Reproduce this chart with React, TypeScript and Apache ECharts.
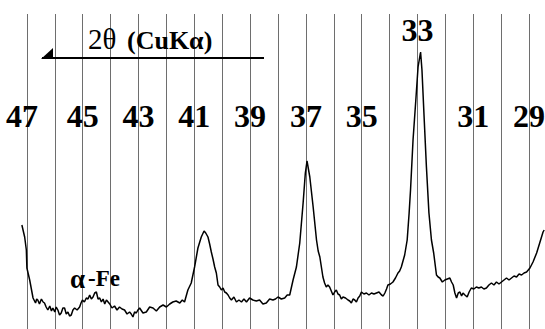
import React, { useEffect, useRef } from "react";
import * as echarts from "echarts";

const twoTheta: number[] = [
  47.18, 47.08, 47.02, 47.0, 46.9, 46.78, 46.69, 46.65, 46.61, 46.55, 46.48, 46.42, 46.37, 46.31, 46.25, 46.18,
  46.12, 46.07, 46.0, 45.95, 45.89, 45.83, 45.77, 45.71, 45.65, 45.59, 45.53, 45.47, 45.41, 45.35, 45.29, 45.2,
  45.11, 45.06, 45.01, 44.94, 44.87, 44.81, 44.75, 44.69, 44.63, 44.57, 44.51, 44.45, 44.39, 44.33, 44.27, 44.21,
  44.15, 44.09, 44.03, 43.95, 43.86, 43.77, 43.68, 43.59, 43.5, 43.41, 43.32, 43.26, 43.2, 43.14, 43.08, 43.02,
  42.96, 42.84, 42.72, 42.6, 42.48, 42.36, 42.24, 42.12, 42.0, 41.88, 41.77, 41.65, 41.52, 41.43, 41.35, 41.23,
  41.11, 40.99, 40.87, 40.75, 40.65, 40.59, 40.51, 40.45, 40.39, 40.33, 40.27, 40.21, 40.15, 40.09, 40.03, 39.97,
  39.91, 39.85, 39.79, 39.73, 39.67, 39.58, 39.49, 39.4, 39.31, 39.22, 39.13, 39.02, 38.9, 38.78, 38.66, 38.54,
  38.42, 38.3, 38.18, 38.09, 38.0, 37.88, 37.76, 37.67, 37.58, 37.46, 37.34, 37.22, 37.1, 37.02, 36.96, 36.91,
  36.86, 36.74, 36.62, 36.56, 36.5, 36.39, 36.33, 36.27, 36.21, 36.15, 36.09, 36.03, 35.97, 35.91, 35.85, 35.79,
  35.73, 35.67, 35.58, 35.49, 35.43, 35.37, 35.31, 35.25, 35.19, 35.13, 35.07, 35.01, 34.92, 34.83, 34.74, 34.65,
  34.56, 34.47, 34.38, 34.29, 34.23, 34.17, 34.11, 34.06, 33.97, 33.88, 33.79, 33.7, 33.64, 33.58, 33.52, 33.46,
  33.37, 33.3, 33.25, 33.16, 33.06, 32.98, 32.89, 32.84, 32.77, 32.68, 32.59, 32.5, 32.42, 32.32, 32.26, 32.2,
  32.11, 32.02, 31.93, 31.84, 31.78, 31.72, 31.66, 31.6, 31.54, 31.48, 31.42, 31.37, 31.3, 31.22, 31.15, 31.07,
  30.98, 30.89, 30.8, 30.71, 30.62, 30.53, 30.44, 30.35, 30.26, 30.17, 30.08, 29.99, 29.9, 29.81, 29.72, 29.63,
  29.54, 29.45, 29.36, 29.27, 29.18, 29.09, 28.97, 28.86, 28.73, 28.62, 28.5, 28.46,
];

const intensity: number[] = [
  104, 92, 79, 61, 49, 31, 26, 30, 29, 25, 30, 27, 26, 22, 19, 23,
  18, 21, 17, 22, 19, 14, 16, 21, 21, 15, 17, 13, 14, 19, 21, 19,
  22, 26, 29, 27, 31, 30, 34, 30, 32, 36, 37, 30, 31, 27, 30, 25,
  29, 27, 25, 21, 23, 19, 22, 20, 19, 15, 17, 15, 12, 17, 16, 19,
  21, 16, 17, 22, 21, 18, 22, 24, 22, 25, 27, 28, 26, 29, 27, 39,
  46, 62, 81, 92, 98, 96, 92, 85, 77, 70, 62, 56, 44, 42, 39, 41,
  37, 36, 34, 31, 29, 32, 27, 29, 27, 30, 27, 31, 29, 28, 29, 25,
  26, 30, 29, 30, 32, 30, 31, 34, 34, 49, 62, 86, 126, 156, 168, 160,
  152, 122, 89, 78, 72, 52, 46, 42, 44, 42, 38, 34, 37, 39, 35, 34,
  30, 32, 31, 29, 28, 26, 30, 29, 27, 31, 33, 37, 35, 36, 34, 36,
  35, 36, 37, 34, 33, 36, 40, 44, 45, 47, 51, 56, 58, 62, 68, 74,
  89, 116, 139, 189, 229, 262, 277, 259, 216, 162, 116, 89, 76, 54, 52, 51,
  47, 49, 50, 51, 47, 44, 36, 31, 36, 37, 33, 36, 34, 32, 37, 41,
  40, 42, 41, 42, 40, 41, 44, 46, 44, 47, 45, 47, 49, 51, 49, 51,
  53, 52, 55, 54, 56, 57, 61, 67, 76, 86, 97, 99,
];

// tick labels written on the pattern
const tickLabels: number[] = [47, 45, 43, 41, 39, 37, 35, 33, 31, 29];
const raisedLabel = 33;
const axisTitleMain = "2θ";
const axisTitleUnit = "(CuKα)";
const phaseSymbol = "α";
const phaseName = "-Fe";

export default function App() {
  const ref = useRef<HTMLDivElement>(null);

  useEffect(() => {
    if (!ref.current) return;
    const chart = echarts.init(ref.current, undefined, { renderer: "svg" });
    const serif = "Liberation Serif";
    const rowLevel = 213;
    const raisedLevel = 299;

    chart.setOption({
      animation: false,
      backgroundColor: "#ffffff",
      textStyle: { fontFamily: serif },
      grid: { left: 0, right: 0, top: 14, bottom: 0, containLabel: false },
      xAxis: {
        type: "value",
        inverse: true,
        min: 28,
        max: 48,
        interval: 1,
        axisLine: { show: false },
        axisTick: { show: false },
        axisLabel: { show: false },
        splitLine: {
          show: true,
          showMinLine: false,
          showMaxLine: false,
          lineStyle: { color: "#6e6e6e", width: 1 },
        },
      },
      yAxis: {
        type: "value",
        min: 0,
        max: 315,
        show: false,
        splitLine: { show: false },
      },
      series: [
        {
          type: "line",
          data: twoTheta.map((t, i) => [t, intensity[i]]),
          symbol: "none",
          lineStyle: { color: "#000", width: 1.5 },
          z: 3,
        },
        {
          type: "scatter",
          symbolSize: 0,
          silent: true,
          itemStyle: { color: "#000", opacity: 1 },
          data: tickLabels.map((v) => ({
            value: [v, v === raisedLabel ? raisedLevel : rowLevel],
            label: v === 47 ? { offset: [-5, 0] } : undefined,
          })),
          label: {
            show: true,
            position: "inside",
            formatter: (p: any) => String(p.value[0]),
            fontFamily: serif,
            fontWeight: "bold",
            fontSize: 32,
            color: "#000",
            opacity: 1,
            textBorderWidth: 0,
            align: "center",
            verticalAlign: "middle",
          },
          z: 4,
        },
      ],
      graphic: [
        {
          type: "line",
          shape: { x1: 43, y1: 58, x2: 265, y2: 58 },
          style: { stroke: "#000", lineWidth: 2 },
          z: 10,
        },
        {
          type: "polygon",
          shape: { points: [[42, 59], [54, 48], [54, 59]] },
          style: { fill: "#000" },
          z: 10,
        },
        {
          type: "text",
          x: 89,
          y: 39,
          style: {
            text: axisTitleMain,
            fontFamily: serif,
            fontSize: 29,
            fontWeight: "normal",
            fill: "#000",
            verticalAlign: "middle",
          },
          z: 10,
        },
        {
          type: "text",
          x: 128,
          y: 40,
          style: {
            text: axisTitleUnit,
            fontFamily: serif,
            fontSize: 26,
            fontWeight: "bold",
            fill: "#000",
            verticalAlign: "middle",
          },
          z: 10,
        },
        {
          type: "text",
          x: 71,
          y: 279,
          style: {
            text: phaseSymbol,
            fontFamily: serif,
            fontSize: 27,
            fontWeight: "bold",
            fill: "#000",
            verticalAlign: "middle",
          },
          z: 10,
        },
        {
          type: "text",
          x: 89,
          y: 278,
          style: {
            text: phaseName,
            fontFamily: serif,
            fontSize: 23,
            fontWeight: "bold",
            fill: "#000",
            verticalAlign: "middle",
          },
          z: 10,
        },
      ],
    });

    return () => chart.dispose();
  }, []);

  return (
    <div
      style={{
        position: "fixed",
        left: 0,
        top: 0,
        width: 545,
        height: 329,
        overflow: "hidden",
        background: "#fff",
      }}
    >
      <div ref={ref} style={{ position: "absolute", left: -1, top: 0, width: 558, height: 329 }} />
    </div>
  );
}
